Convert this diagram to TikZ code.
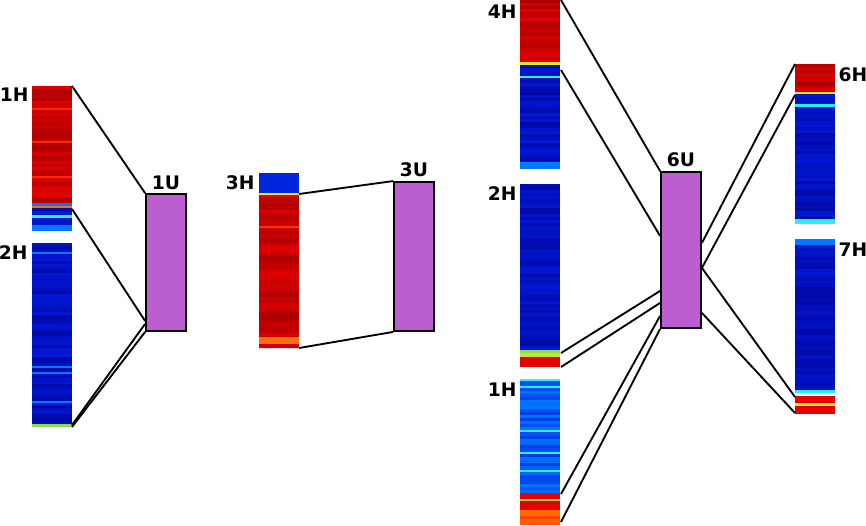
\documentclass[tikz,border=0pt]{standalone}
\usepackage{fontspec}
\setsansfont{DejaVu Sans}
\usetikzlibrary{positioning}

\definecolor{jdr}{RGB}{140,0,0}
\definecolor{jr}{RGB}{230,0,0}
\definecolor{jo}{RGB}{255,110,0}
\definecolor{jy}{RGB}{230,230,40}
\definecolor{jg}{RGB}{140,220,90}
\definecolor{jc}{RGB}{40,240,255}
\definecolor{jlb}{RGB}{0,120,255}
\definecolor{jb}{RGB}{0,25,215}
\definecolor{jdb}{RGB}{0,0,140}
\definecolor{upurple}{RGB}{187,94,207}

% streaky band of a heat strip: x, top, bottom, colour, colour
\newcommand{\heatband}[5]{%
	\pgfmathtruncatemacro{\nst}{(#3-#2)/3}
	\foreach \k in {0,...,\nst} {
		\pgfmathsetmacro{\ya}{#2+3*\k}
		\pgfmathsetmacro{\yb}{min(#2+3*\k+3.4,#3)}
		\pgfmathtruncatemacro{\mixv}{35+65*rnd}
		\fill[#4!\mixv!#5] (#1,\ya) rectangle (#1+40,\yb);
	}
}
% single line of one colour
\newcommand{\heatline}[4]{\fill[#4] (#1,#2) rectangle (#1+40,#3);}

\begin{document}
\begin{tikzpicture}[x=0.75pt, y=-0.75pt,
		ubox/.style={draw, line width=1.4pt, fill=upurple, minimum width=30pt, inner sep=0pt},
		lab/.style={font=\sffamily\bfseries\fontsize{14}{14}\selectfont, inner sep=1pt},
		link/.style={line width=1.4pt}]
		\useasboundingbox (0,0) rectangle (866,525);
		\pgfmathsetseed{7}

		% left strips
		\heatband{32}{86}{203}{jr}{jdr}
		\foreach \y in {108, 141, 176} {\heatline{32}{\y}{\y+2}{jr!55!jo}}
		\heatline{32}{203}{206}{jlb}
		\heatline{32}{206}{208}{jo}
		\heatband{32}{208}{231}{jb}{jdb}
		\heatline{32}{215}{217.5}{jc}
		\heatline{32}{225}{231}{jlb}
		\heatband{32}{243}{427}{jb}{jdb}
		\foreach \y in {252, 366, 372, 401} {\heatline{32}{\y}{\y+2}{jlb}}
		\heatline{32}{424}{427}{jg}

		\heatband{259}{173}{193}{jb}{jb!85!jlb}
		\heatline{259}{193}{195}{jy}
		\heatband{259}{195}{348}{jr}{jdr}
		\heatline{259}{226}{228}{jr!50!jo}
		\heatline{259}{337}{344}{jo}

		% right group
		\heatband{520}{0}{63}{jr}{jdr}
		\heatline{520}{62}{65}{jy}
		\heatband{520}{65}{169}{jb}{jdb}
		\heatline{520}{76}{78}{jc}
		\heatline{520}{162}{169}{jlb}

		\heatband{520}{184}{350}{jb}{jdb}
		\heatline{520}{350}{353}{jg}
		\heatline{520}{353}{357}{jy!70!jg}
		\heatline{520}{357}{367}{jr}

		\heatband{520}{379}{494}{jlb}{jb}
		\foreach \y in {379, 386, 430, 452, 470} {\heatline{520}{\y}{\y+2}{jc}}
		\heatline{520}{494}{499}{jr}
		\heatline{520}{499}{501}{jg}
		\heatline{520}{501}{510}{jr}
		\heatband{520}{510}{525}{jo}{jr}

		\heatband{795}{64}{92}{jr}{jdr}
		\heatline{795}{92}{94}{jy}
		\heatband{795}{94}{224}{jb}{jdb}
		\heatline{795}{104}{107}{jc}
		\heatline{795}{219}{224}{jc}

		\heatband{795}{239}{392}{jb}{jdb}
		\heatline{795}{239}{245}{jlb}
		\heatline{795}{390}{393}{jc}
		\heatline{795}{396}{403}{jr}
		\heatline{795}{403}{406}{jy}
		\heatline{795}{406}{414}{jr}

		% unit boxes
		\node[ubox, minimum height=102.75pt] (u1) at (166,262.5) {};
		\node[ubox, minimum height=111.75pt] (u3) at (414,256.5) {};
		\node[ubox, minimum height=117pt] (u6) at (681,250) {};
		\node[lab, above=1.2pt of u1] (l1u) {1U};
		\node[lab, above=2pt of u3] (l3u) {3U};
		\node[lab, above=2pt of u6] (l6u) {6U};

		% strip labels
		\node[lab, anchor=east] (l1h) at (30,95) {1H};
		\node[lab, anchor=east] (l2h) at (29,253) {2H};
		\node[lab, anchor=east] (l3h) at (256,183) {3H};
		\node[lab, anchor=east] (l4h) at (518,12) {4H};
		\node[lab, anchor=east] (l2hr) at (518,194) {2H};
		\node[lab, anchor=east] (l1hr) at (518,390) {1H};
		\node[lab, anchor=west] (l6h) at (837,75) {6H};
		\node[lab, anchor=west] (l7h) at (837,250) {7H};

		% ends on the strips
		\coordinate (a1) at (72,86);
		\coordinate (a2) at (72,209);
		\coordinate (a3) at (72,425);
		\coordinate (a4) at (72,427);
		\coordinate (b1) at (299,194);
		\coordinate (b2) at (299,348);
		\coordinate (c1) at (561,0);
		\coordinate (c2) at (561,70);
		\coordinate (c3) at (561,353);
		\coordinate (c4) at (561,367);
		\coordinate (c5) at (561,494);
		\coordinate (c6) at (561,522);
		\coordinate (d1) at (795,64);
		\coordinate (d2) at (795,95);
		\coordinate (d3) at (795,397);
		\coordinate (d4) at (795,413);

		\draw[link] (a1) -- (u1.north west);
		\draw[link] (a2) -- ([yshift=8.25pt]u1.south west);
		\draw[link] (a3) -- ([yshift=6pt]u1.south west);
		\draw[link] (a4) -- (u1.south west);

		\draw[link] (b1) -- (u3.north west);
		\draw[link] (b2) -- (u3.south west);

		\draw[link] (c1) -- (u6.north west);
		\draw[link] (c2) -- ([yshift=69.75pt]u6.south west);
		\draw[link] (c3) -- ([yshift=28.5pt]u6.south west);
		\draw[link] (c4) -- ([yshift=19.5pt]u6.south west);
		\draw[link] (c5) -- ([yshift=9.75pt]u6.south west);
		\draw[link] (c6) -- (u6.south west);

		\draw[link] ([yshift=64.5pt]u6.south east) -- (d1);
		\draw[link] ([yshift=45.75pt]u6.south east) -- (d2);
		\draw[link] ([yshift=45.75pt]u6.south east) -- (d3);
		\draw[link] ([yshift=12pt]u6.south east) -- (d4);
	\end{tikzpicture}
\end{document}
